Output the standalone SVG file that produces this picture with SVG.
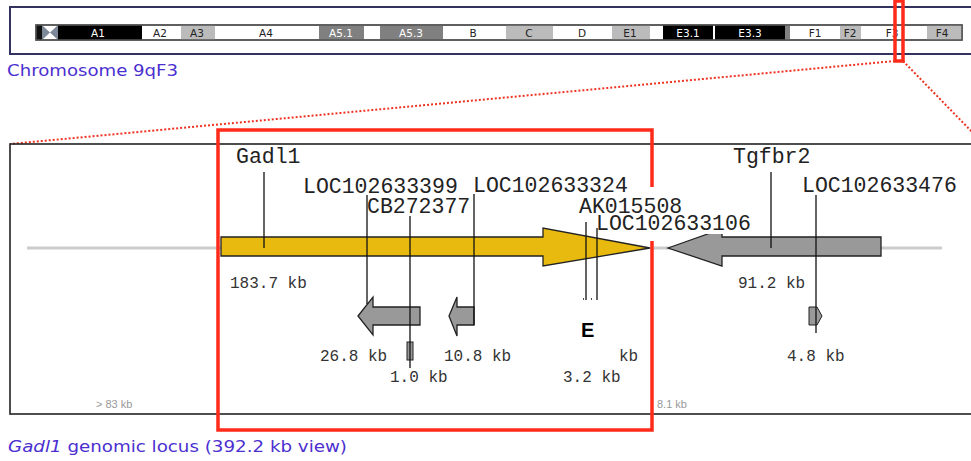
<svg xmlns="http://www.w3.org/2000/svg" width="971" height="461" viewBox="0 0 971 461">
<style>
.band-lbl{font-family:"DejaVu Sans","Liberation Sans",sans-serif;font-size:10.5px;text-anchor:middle}
.w{fill:#ffffff}.k{fill:#222222}
.cap{font-family:"DejaVu Sans","Liberation Sans",sans-serif;font-size:16px;fill:#4b2fd0}
.gene{font-family:"Liberation Mono","DejaVu Sans Mono",monospace;font-size:21.5px;fill:#222}
.size{font-family:"Liberation Mono","DejaVu Sans Mono",monospace;font-size:16px;fill:#333}
.small{font-family:"Liberation Sans",Arial,sans-serif;font-size:11px;fill:#999}
.lead{stroke:#111;stroke-width:1.3;fill:none}
.garrow{fill:#999999;stroke:#222;stroke-width:1.3}
.red{stroke:#ff2a1a;stroke-width:3.5;fill:none}
.dot{stroke:#ee3322;stroke-width:2;stroke-dasharray:2 2;fill:none}
</style>

<g id="chromosome">
  <rect x="10" y="7" width="970" height="47" fill="#ffffff" stroke="#33335f" stroke-width="2"/>
  <rect x="36" y="25" width="926" height="15" fill="#ffffff" stroke="#555" stroke-width="1.5"/>
  <rect x="36" y="25" width="6" height="15" fill="#111"/>
  <polygon points="42,25 50,32.5 42,40" fill="#7d8898"/>
  <polygon points="58,25 50,32.5 58,40" fill="#7d8898"/>
  <rect x="58" y="25" width="84" height="15" fill="#000"/>
  <rect x="181" y="25" width="34" height="15" fill="#bbbbbb"/>
  <rect x="319" y="25" width="45" height="15" fill="#808080"/>
  <rect x="380" y="25" width="63" height="15" fill="#808080"/>
  <rect x="506" y="25" width="47" height="15" fill="#bbbbbb"/>
  <rect x="612" y="25" width="38" height="15" fill="#bbbbbb"/>
  <rect x="663" y="25" width="50" height="15" fill="#000"/>
  <rect x="715" y="25" width="70" height="15" fill="#000"/>
  <rect x="785" y="25" width="5" height="15" fill="#808080"/>
  <rect x="840" y="25" width="21" height="15" fill="#bbbbbb"/>
  <rect x="927" y="25" width="35" height="15" fill="#bbbbbb"/>
  <rect x="36" y="25" width="926" height="15" fill="none" stroke="#555" stroke-width="1.5"/>
  <text class="band-lbl w" x="98" y="36.5">A1</text>
  <text class="band-lbl k" x="160" y="36.5">A2</text>
  <text class="band-lbl k" x="197" y="36.5">A3</text>
  <text class="band-lbl k" x="266" y="36.5">A4</text>
  <text class="band-lbl w" x="341" y="36.5">A5.1</text>
  <text class="band-lbl w" x="411" y="36.5">A5.3</text>
  <text class="band-lbl k" x="473" y="36.5">B</text>
  <text class="band-lbl k" x="529" y="36.5">C</text>
  <text class="band-lbl k" x="582" y="36.5">D</text>
  <text class="band-lbl k" x="630" y="36.5">E1</text>
  <text class="band-lbl w" x="688" y="36.5">E3.1</text>
  <text class="band-lbl w" x="750" y="36.5">E3.3</text>
  <text class="band-lbl k" x="815" y="36.5">F1</text>
  <text class="band-lbl k" x="850" y="36.5">F2</text>
  <text class="band-lbl k" x="892" y="36.5">F3</text>
  <text class="band-lbl k" x="942" y="36.5">F4</text>
  <rect x="895" y="1" width="8" height="60" class="red" stroke-width="3"/>
  <text class="cap" x="7" y="76" textLength="171" lengthAdjust="spacingAndGlyphs">Chromosome 9qF3</text>
</g>

<g id="connectors">
  <line x1="895" y1="61" x2="10" y2="144" class="dot"/>
  <line x1="903" y1="61" x2="975" y2="135" class="dot"/>
</g>

<g id="locus">
  <rect x="10" y="144" width="970" height="270" fill="none" stroke="#222" stroke-width="1.6"/>
  <line x1="27" y1="248" x2="221" y2="248" stroke="#cccccc" stroke-width="3"/>
  <line x1="650" y1="248" x2="942" y2="248" stroke="#cccccc" stroke-width="3"/>
  <text class="small" x="96" y="408">&gt; 83 kb</text>
  <text class="small" x="657" y="408">8.1 kb</text>
  <text class="cap" x="8" y="452" textLength="339" lengthAdjust="spacingAndGlyphs"><tspan font-style="italic">Gadl1</tspan> genomic locus (392.2 kb view)</text>
</g>

<g id="gene-Gadl1">
  <polygon points="221,237 543,237 543,228 650,248 543,266 543,256 221,256" fill="#e8b90f" stroke="#222" stroke-width="1.3"/>
  <line x1="264" y1="172" x2="264" y2="248" class="lead"/>
  <text class="gene" x="236" y="163">Gadl1</text>
  <text class="size" x="230" y="288">183.7 kb</text>
</g>

<g id="gene-Tgfbr2">
  <polygon points="668,248 722,229 722,237 881,237 881,256 722,256 722,266" class="garrow"/>
  <line x1="771" y1="172" x2="771" y2="248" class="lead"/>
  <text class="gene" x="733" y="163">Tgfbr2</text>
  <text class="size" x="738" y="288">91.2 kb</text>
</g>

<g id="gene-LOC102633399">
  <polygon points="358,316 373,297 373,307 420,307 420,325 373,325 373,335" class="garrow"/>
  <line x1="367" y1="195" x2="367" y2="304" class="lead"/>
  <text class="gene" x="303" y="193">LOC102633399</text>
  <text class="size" x="320" y="361">26.8 kb</text>
</g>

<g id="gene-CB272377">
  <rect x="407" y="342" width="6" height="18" fill="#999" stroke="#222" stroke-width="1"/>
  <line x1="410" y1="216" x2="410" y2="368" class="lead"/>
  <text class="gene" x="367" y="213">CB272377</text>
  <text class="size" x="390" y="382">1.0 kb</text>
</g>

<g id="gene-LOC102633324">
  <polygon points="449,316 457,297 457,307 474,307 474,325 457,325 457,336" class="garrow"/>
  <line x1="474" y1="194" x2="474" y2="325" class="lead"/>
  <text class="gene" x="473" y="192">LOC102633324</text>
  <text class="size" x="444" y="361">10.8 kb</text>
</g>

<g id="gene-AK015508">
  <line x1="586" y1="222" x2="586" y2="300" class="lead"/>
  <line x1="583" y1="299" x2="584" y2="299" class="lead"/>
  <text class="gene" x="579" y="213">AK015508</text>
</g>

<g id="gene-LOC102633106">
  <rect x="588" y="215" width="165" height="19" fill="#ffffff"/>
  <line x1="597" y1="228" x2="597" y2="300" class="lead"/>
  <line x1="591" y1="299" x2="592" y2="299" class="lead"/>
  <text class="gene" x="596" y="230">LOC102633106</text>
  <text class="size" x="619" y="361">kb</text>
  <text class="size" x="563" y="382">3.2 kb</text>
</g>

<g id="label-E">
  <text x="581" y="337" font-family="'Liberation Sans',Arial,sans-serif" font-weight="bold" font-size="20" fill="#000">E</text>
</g>

<g id="gene-LOC102633476">
  <polygon points="809,307 817,307 822,316 817,325 809,325" fill="#999" stroke="#222" stroke-width="1"/>
  <line x1="816" y1="195" x2="816" y2="333" class="lead"/>
  <text class="gene" x="802" y="192">LOC102633476</text>
  <text class="size" x="787" y="361">4.8 kb</text>
</g>

<g id="highlight">
  <polyline points="652,187 652,130 218,130 218,430 652,430 652,241" class="red"/>
</g>
</svg>
